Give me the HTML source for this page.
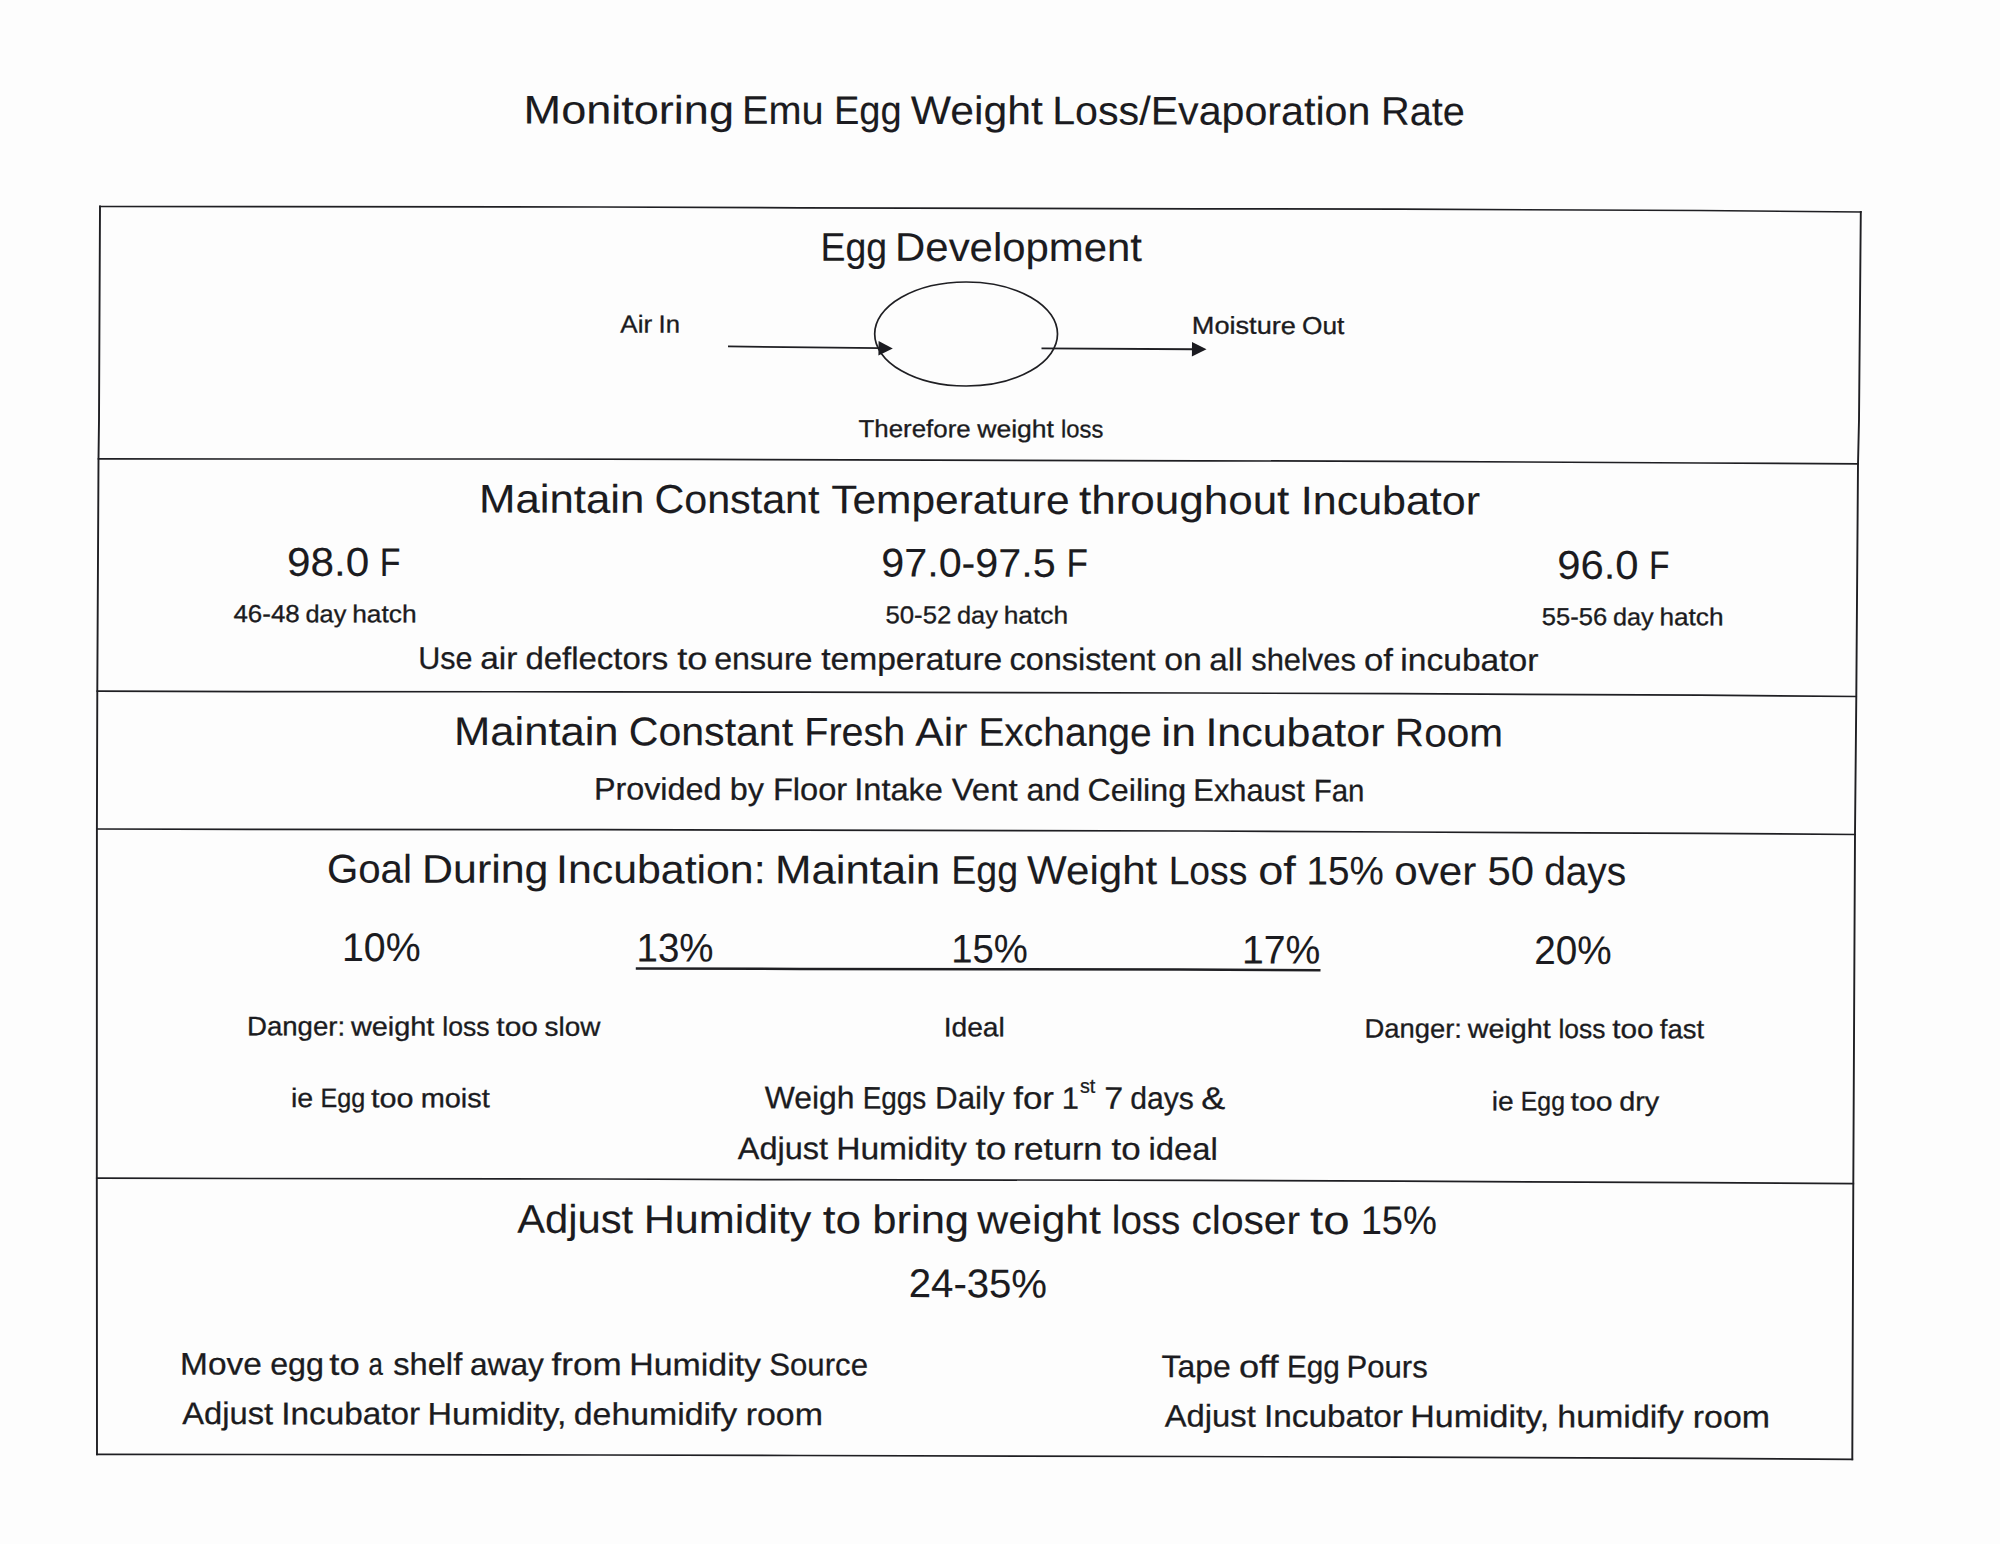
<!DOCTYPE html>
<html lang="en">
<head>
<meta charset="utf-8">
<title>Monitoring Emu Egg Weight Loss/Evaporation Rate</title>
<style>
*{margin:0;padding:0;box-sizing:border-box}
html,body{width:2000px;height:1544px;overflow:hidden;background:#fdfdfd}
body{position:relative;font-family:"Liberation Sans",sans-serif;color:#1b1b20}
.t{position:absolute;white-space:nowrap;line-height:1em;height:1em;font-weight:400}
.t span{display:inline-block;transform-origin:0 0}
.a{-webkit-text-stroke:.12px currentColor}
.b{-webkit-text-stroke:.28px currentColor}
.c{-webkit-text-stroke:.32px currentColor}
sup{font-size:.64em;line-height:0;vertical-align:baseline;position:relative;top:-.78em;margin-left:.05em}
svg{position:absolute;left:0;top:0}
</style>
</head>
<body>
<svg width="2000" height="1544" viewBox="0 0 2000 1544" fill="none" stroke="#1f1f23" stroke-width="1.7" stroke-linejoin="miter" stroke-linecap="square" aria-hidden="true">
<polyline points="100,206.5 260,206.6 600,207 800,207.8 1200,208.8 1400,209.2 1700,210.5 1860.8,212"/>
<polyline points="98.5,458.8 250,459 500,459 700,459.4 1200,460.8 1400,461.3 1700,463 1858,463.8"/>
<polyline points="97.3,691.2 250,691.6 600,691.8 800,692.2 1200,693 1400,693.7 1700,695.1 1856.2,696.5"/>
<polyline points="97,829 250,829.3 600,829.7 800,830.2 1200,831 1400,832 1700,833.3 1855,834.5"/>
<polyline points="96.8,1178.2 250,1178.5 600,1179 800,1179.7 1200,1180.3 1400,1181.2 1700,1182.7 1853.3,1183.7"/>
<polyline points="97,1454.3 600,1455 800,1455.5 1200,1456.5 1400,1457.2 1700,1458.3 1852.3,1459.4"/>
<polyline stroke-width="1.9" points="100,206.5 99,420 98.5,459 98.3,500 97.3,691 96.9,829 96.8,1178 97,1454.3"/>
<polyline stroke-width="1.9" points="1860.8,212 1859,420 1858,464 1856.3,696 1855,834 1853.3,1183 1852.3,1459.4"/>
<ellipse cx="966.1" cy="334" rx="91.4" ry="52" stroke-width="1.7"/>
<line x1="728" y1="346.4" x2="880" y2="348.2" stroke-width="1.8" stroke-linecap="butt"/>
<polygon points="878.6,341 892.8,348.4 878.4,355.4" fill="#1b1b20" stroke="none"/>
<line x1="1041.5" y1="348.4" x2="1193" y2="349.2" stroke-width="1.9" stroke-linecap="butt"/>
<polygon points="1192,342 1206.5,349.3 1191.9,356.5" fill="#1b1b20" stroke="none"/>
<polyline points="635.8,968.5 800,968.9 1000,969.2 1180,969.6 1320.5,970.2" stroke-width="2.5" stroke-linecap="butt"/>
</svg>
<main>
<header>
<h1 class="t a" style="left:523px;top:89px;width:944px;font-size:40.0px;transform-origin:4px 34px;transform:translateY(0.50px) rotate(0.092deg)"><span style="transform:translateX(0.62px) scaleX(1.1262)">Monitoring</span> <span style="transform:translateX(21.04px) scaleX(0.9910)">Emu</span> <span style="transform:translateX(19.98px) scaleX(0.9504)">Egg</span> <span style="transform:translateX(13.77px) scaleX(1.0665)">Weight</span> <span style="transform:translateX(21.23px) scaleX(1.0292)">Loss/Evaporation</span> <span style="transform:translateX(29.03px) scaleX(0.9910)">Rate</span></h1>
</header>
<section>
<h2 class="t a" style="left:819px;top:226px;width:327px;font-size:40.0px;transform-origin:4px 34px;transform:translateY(0.75px) rotate(0.063deg)"><span style="transform:translateX(1.49px) scaleX(0.9352)">Egg</span> <span style="transform:translateX(-5.90px) scaleX(1.0471)">Development</span></h2>
<p class="t c" style="left:616px;top:312px;width:65px;font-size:24.4px;transform-origin:4px 20px;transform:translateY(0.50px) rotate(0.103deg)"><span style="transform:translateX(4.30px) scaleX(1.0678)">Air</span> <span style="transform:translateX(5.52px) scaleX(1.0507)">In</span></p>
<p class="t c" style="left:1190px;top:313px;width:158px;font-size:24.4px;transform-origin:4px 20px;transform:translateY(0.75px) rotate(0.103deg)"><span style="transform:translateX(1.82px) scaleX(1.1125)">Moisture</span> <span style="transform:translateX(11.98px) scaleX(1.0759)">Out</span></p>
<p class="t c" style="left:855px;top:417px;width:251px;font-size:24.4px;transform-origin:4px 20px;transform:translateY(0.00px) rotate(0.103deg)"><span style="transform:translateX(3.46px) scaleX(1.0609)">Therefore</span> <span style="transform:translateX(9.28px) scaleX(1.0877)">weight</span> <span style="transform:translateX(16.07px) scaleX(0.9739)">loss</span></p>
</section>
<section>
<h2 class="t a" style="left:478px;top:478px;width:1005px;font-size:40.0px;transform-origin:4px 34px;transform:translateY(0.50px) rotate(0.115deg)"><span style="transform:translateX(1.02px) scaleX(1.0926)">Maintain</span> <span style="transform:translateX(14.50px) scaleX(1.0306)">Constant</span> <span style="transform:translateX(19.27px) scaleX(1.0609)">Temperature</span> <span style="transform:translateX(31.96px) scaleX(1.0999)">throughout</span> <span style="transform:translateX(50.87px) scaleX(1.0741)">Incubator</span></h2>
<p class="t a" style="left:285px;top:541px;width:118px;font-size:40.0px;transform-origin:4px 34px;transform:translateY(0.75px) rotate(0.103deg)"><span style="transform:translateX(2.00px) scaleX(1.0560)">98.0</span> <span style="transform:translateX(5.74px) scaleX(0.8464)">F</span></p>
<p class="t c" style="left:230px;top:602px;width:189px;font-size:24.4px;transform-origin:4px 20px;transform:translateY(0.00px) rotate(0.103deg)"><span style="transform:translateX(3.45px) scaleX(1.0625)">46-48</span> <span style="transform:translateX(6.55px) scaleX(1.0364)">day</span> <span style="transform:translateX(7.23px) scaleX(1.0773)">hatch</span></p>
<p class="t a" style="left:879px;top:542px;width:211px;font-size:40.0px;transform-origin:4px 34px;transform:translateY(0.50px) rotate(0.103deg)"><span style="transform:translateX(2.29px) scaleX(1.0314)">97.0-97.5</span> <span style="transform:translateX(7.47px) scaleX(0.8758)">F</span></p>
<p class="t c" style="left:882px;top:603px;width:188px;font-size:24.4px;transform-origin:4px 20px;transform:translateY(0.25px) rotate(0.103deg)"><span style="transform:translateX(3.50px) scaleX(1.0543)">50-52</span> <span style="transform:translateX(6.00px) scaleX(1.0369)">day</span> <span style="transform:translateX(6.70px) scaleX(1.0778)">hatch</span></p>
<p class="t a" style="left:1555px;top:544px;width:117px;font-size:40.0px;transform-origin:4px 34px;transform:translateY(0.75px) rotate(0.103deg)"><span style="transform:translateX(2.27px) scaleX(1.0440)">96.0</span> <span style="transform:translateX(4.96px) scaleX(0.8368)">F</span></p>
<p class="t c" style="left:1538px;top:605px;width:187px;font-size:24.4px;transform-origin:4px 20px;transform:translateY(0.00px) rotate(0.103deg)"><span style="transform:translateX(3.75px) scaleX(1.0482)">55-56</span> <span style="transform:translateX(5.95px) scaleX(1.0326)">day</span> <span style="transform:translateX(6.46px) scaleX(1.0733)">hatch</span></p>
<p class="t b" style="left:416px;top:642px;width:1126px;font-size:31.1px;transform-origin:4px 26px;transform:translateY(0.75px) rotate(0.102deg)"><span style="transform:translateX(2.34px) scaleX(0.9809)">Use</span> <span style="transform:translateX(0.23px) scaleX(1.0727)">air</span> <span style="transform:translateX(2.43px) scaleX(1.0590)">deflectors</span> <span style="transform:translateX(10.18px) scaleX(1.1610)">to</span> <span style="transform:translateX(13.26px) scaleX(1.0330)">ensure</span> <span style="transform:translateX(16.22px) scaleX(1.0799)">temperature</span> <span style="transform:translateX(28.41px) scaleX(1.0432)">consistent</span> <span style="transform:translateX(34.30px) scaleX(1.0872)">on</span> <span style="transform:translateX(36.34px) scaleX(1.0687)">all</span> <span style="transform:translateX(38.26px) scaleX(0.9918)">shelves</span> <span style="transform:translateX(36.88px) scaleX(1.1150)">of</span> <span style="transform:translateX(39.36px) scaleX(1.0791)">incubator</span></p>
</section>
<section>
<h2 class="t a" style="left:453px;top:711px;width:1051px;font-size:40.0px;transform-origin:4px 34px;transform:translateY(0.00px) rotate(0.082deg)"><span style="transform:translateX(1.04px) scaleX(1.0881)">Maintain</span> <span style="transform:translateX(13.79px) scaleX(1.0264)">Constant</span> <span style="transform:translateX(17.35px) scaleX(0.9871)">Fresh</span> <span style="transform:translateX(15.24px) scaleX(1.0673)">Air</span> <span style="transform:translateX(18.38px) scaleX(0.9738)">Exchange</span> <span style="transform:translateX(12.34px) scaleX(1.1134)">in</span> <span style="transform:translateX(14.44px) scaleX(1.0733)">Incubator</span> <span style="transform:translateX(25.86px) scaleX(1.0134)">Room</span></h2>
<p class="t b" style="left:592px;top:773px;width:774px;font-size:31.1px;transform-origin:4px 26px;transform:translateY(0.50px) rotate(0.131deg)"><span style="transform:translateX(1.90px) scaleX(1.0396)">Provided</span> <span style="transform:translateX(6.86px) scaleX(1.0397)">by</span> <span style="transform:translateX(7.88px) scaleX(1.0484)">Floor</span> <span style="transform:translateX(10.32px) scaleX(1.0458)">Intake</span> <span style="transform:translateX(13.74px) scaleX(1.0573)">Vent</span> <span style="transform:translateX(17.42px) scaleX(1.0366)">and</span> <span style="transform:translateX(18.48px) scaleX(1.0376)">Ceiling</span> <span style="transform:translateX(20.31px) scaleX(0.9917)">Exhaust</span> <span style="transform:translateX(19.69px) scaleX(0.9462)">Fan</span></p>
</section>
<section>
<h2 class="t a" style="left:325px;top:848px;width:1304px;font-size:40.0px;transform-origin:4px 34px;transform:translateY(0.50px) rotate(0.111deg)"><span style="transform:translateX(2.04px) scaleX(1.0036)">Goal</span> <span style="transform:translateX(1.10px) scaleX(1.0716)">During</span> <span style="transform:translateX(6.12px) scaleX(1.0702)">Incubation:</span> <span style="transform:translateX(19.00px) scaleX(1.0925)">Maintain</span> <span style="transform:translateX(32.33px) scaleX(0.9385)">Egg</span> <span style="transform:translateX(26.10px) scaleX(1.0512)">Weight</span> <span style="transform:translateX(32.65px) scaleX(0.9304)">Loss</span> <span style="transform:translateX(26.18px) scaleX(1.1277)">of</span> <span style="transform:translateX(30.56px) scaleX(0.9637)">15%</span> <span style="transform:translateX(27.31px) scaleX(1.0531)">over</span> <span style="transform:translateX(31.39px) scaleX(1.0449)">50</span> <span style="transform:translateX(32.20px) scaleX(0.9700)">days</span></h2>
<p class="t a" style="left:341px;top:927px;width:82px;font-size:40.0px;transform-origin:4px 34px;transform:translateY(0.00px) rotate(0.103deg)"><span style="transform:translateX(1.06px) scaleX(0.9803)">10%</span></p>
<p class="t a" style="left:635px;top:927px;width:81px;font-size:40.0px;transform-origin:4px 34px;transform:translateY(0.50px) rotate(0.103deg)"><span style="transform:translateX(1.62px) scaleX(0.9605)">13%</span></p>
<p class="t a" style="left:950px;top:928px;width:81px;font-size:40.0px;transform-origin:4px 34px;transform:translateY(0.50px) rotate(0.103deg)"><span style="transform:translateX(1.18px) scaleX(0.9559)">15%</span></p>
<p class="t a" style="left:1241px;top:929px;width:82px;font-size:40.0px;transform-origin:4px 34px;transform:translateY(0.50px) rotate(0.103deg)"><span style="transform:translateX(1.07px) scaleX(0.9763)">17%</span></p>
<p class="t a" style="left:1532px;top:930px;width:82px;font-size:40.0px;transform-origin:4px 34px;transform:translateY(0.00px) rotate(0.103deg)"><span style="transform:translateX(2.17px) scaleX(0.9662)">20%</span></p>
<p class="t c" style="left:245px;top:1013px;width:360px;font-size:26.7px;transform-origin:4px 22px;transform:translateY(0.25px) rotate(0.103deg)"><span style="transform:translateX(1.98px) scaleX(1.0335)">Danger:</span> <span style="transform:translateX(3.98px) scaleX(1.0811)">weight</span> <span style="transform:translateX(10.31px) scaleX(0.9948)">loss</span> <span style="transform:translateX(9.36px) scaleX(1.1200)">too</span> <span style="transform:translateX(13.55px) scaleX(1.0447)">slow</span></p>
<p class="t c" style="left:941px;top:1014px;width:65px;font-size:26.7px;transform-origin:4px 22px;transform:translateY(0.25px) rotate(0.103deg)"><span style="transform:translateX(2.69px) scaleX(1.0557)">Ideal</span></p>
<p class="t c" style="left:1362px;top:1015px;width:346px;font-size:26.7px;transform-origin:4px 22px;transform:translateY(0.50px) rotate(0.127deg)"><span style="transform:translateX(2.50px) scaleX(1.0264)">Danger:</span> <span style="transform:translateX(3.78px) scaleX(1.0738)">weight</span> <span style="transform:translateX(9.49px) scaleX(0.9880)">loss</span> <span style="transform:translateX(8.17px) scaleX(1.1123)">too</span> <span style="transform:translateX(11.85px) scaleX(1.0266)">fast</span></p>
<p class="t c" style="left:288px;top:1085px;width:204px;font-size:26.7px;transform-origin:4px 22px;transform:translateY(0.00px) rotate(0.103deg)"><span style="transform:translateX(2.90px) scaleX(1.0697)">ie</span> <span style="transform:translateX(4.50px) scaleX(0.9412)">Egg</span> <span style="transform:translateX(-0.04px) scaleX(1.1466)">too</span> <span style="transform:translateX(4.68px) scaleX(1.0835)">moist</span></p>
<p class="t b" style="left:760px;top:1082px;width:468px;font-size:31.1px;transform-origin:4px 26px;transform:translateY(0.25px) rotate(0.093deg)"><span style="transform:translateX(4.80px) scaleX(1.0246)">Weigh</span> <span style="transform:translateX(6.78px) scaleX(0.8962)">Eggs</span> <span style="transform:translateX(-0.93px) scaleX(1.0059)">Daily</span> <span style="transform:translateX(-0.77px) scaleX(1.1213)">for</span> <span style="transform:translateX(3.82px) scaleX(0.9926)">1<sup>st</sup></span> <span style="transform:translateX(3.29px) scaleX(1.0945)">7</span> <span style="transform:translateX(3.18px) scaleX(0.9690)">days</span> <span style="transform:translateX(0.29px) scaleX(1.1569)">&amp;</span></p>
<p class="t c" style="left:1489px;top:1088px;width:174px;font-size:26.7px;transform-origin:4px 22px;transform:translateY(0.25px) rotate(0.103deg)"><span style="transform:translateX(2.67px) scaleX(1.0544)">ie</span> <span style="transform:translateX(3.85px) scaleX(0.9278)">Egg</span> <span style="transform:translateX(-1.41px) scaleX(1.1302)">too</span> <span style="transform:translateX(2.29px) scaleX(1.0780)">dry</span></p>
<p class="t b" style="left:733px;top:1133px;width:485px;font-size:31.1px;transform-origin:4px 26px;transform:translateY(0.00px) rotate(0.084deg)"><span style="transform:translateX(4.80px) scaleX(1.0444)">Adjust</span> <span style="transform:translateX(8.16px) scaleX(1.0798)">Humidity</span> <span style="transform:translateX(17.40px) scaleX(1.1919)">to</span> <span style="transform:translateX(21.07px) scaleX(1.0984)">return</span> <span style="transform:translateX(29.59px) scaleX(1.1216)">to</span> <span style="transform:translateX(31.55px) scaleX(1.0523)">ideal</span></p>
</section>
<section>
<h2 class="t a" style="left:513px;top:1198px;width:927px;font-size:40.0px;transform-origin:4px 34px;transform:translateY(0.75px) rotate(0.084deg)"><span style="transform:translateX(4.30px) scaleX(1.0426)">Adjust</span> <span style="transform:translateX(8.69px) scaleX(1.0780)">Humidity</span> <span style="transform:translateX(20.74px) scaleX(1.1493)">to</span> <span style="transform:translateX(25.20px) scaleX(1.0895)">bring</span> <span style="transform:translateX(30.31px) scaleX(1.0689)">weight</span> <span style="transform:translateX(38.83px) scaleX(0.9629)">loss</span> <span style="transform:translateX(35.53px) scaleX(1.0168)">closer</span> <span style="transform:translateX(37.02px) scaleX(1.1861)">to</span> <span style="transform:translateX(42.67px) scaleX(0.9529)">15%</span></h2>
<p class="t a" style="left:906px;top:1263px;width:143px;font-size:40.0px;transform-origin:4px 34px;transform:translateY(0.00px) rotate(0.213deg)"><span style="transform:translateX(2.80px) scaleX(1.0024)">24-35%</span></p>
<p class="t b" style="left:178px;top:1348px;width:692px;font-size:31.1px;transform-origin:4px 26px;transform:translateY(0.50px) rotate(0.075deg)"><span style="transform:translateX(2.06px) scaleX(1.0752)">Move</span> <span style="transform:translateX(7.20px) scaleX(1.0350)">egg</span> <span style="transform:translateX(6.29px) scaleX(1.1729)">to</span> <span style="transform:translateX(10.55px) scaleX(0.8298)">a</span> <span style="transform:translateX(9.24px) scaleX(1.0499)">shelf</span> <span style="transform:translateX(11.97px) scaleX(1.0177)">away</span> <span style="transform:translateX(12.54px) scaleX(1.1270)">from</span> <span style="transform:translateX(19.21px) scaleX(1.0902)">Humidity</span> <span style="transform:translateX(29.26px) scaleX(1.0020)">Source</span></p>
<p class="t b" style="left:178px;top:1398px;width:647px;font-size:31.1px;transform-origin:4px 26px;transform:translateY(0.00px) rotate(0.090deg)"><span style="transform:translateX(4.30px) scaleX(1.0513)">Adjust</span> <span style="transform:translateX(8.32px) scaleX(1.0712)">Incubator</span> <span style="transform:translateX(16.53px) scaleX(1.0912)">Humidity,</span> <span style="transform:translateX(26.79px) scaleX(1.0871)">dehumidify</span> <span style="transform:translateX(39.72px) scaleX(1.0889)">room</span></p>
<p class="t b" style="left:1158px;top:1351px;width:272px;font-size:31.1px;transform-origin:4px 26px;transform:translateY(0.00px) rotate(0.103deg)"><span style="transform:translateX(3.58px) scaleX(1.0249)">Tape</span> <span style="transform:translateX(4.90px) scaleX(1.1643)">off</span> <span style="transform:translateX(9.92px) scaleX(0.9528)">Egg</span> <span style="transform:translateX(5.52px) scaleX(0.9991)">Pours</span></p>
<p class="t b" style="left:1160px;top:1400px;width:611px;font-size:31.1px;transform-origin:4px 26px;transform:translateY(0.50px) rotate(0.095deg)"><span style="transform:translateX(4.80px) scaleX(1.0523)">Adjust</span> <span style="transform:translateX(8.91px) scaleX(1.0722)">Incubator</span> <span style="transform:translateX(17.25px) scaleX(1.0922)">Humidity,</span> <span style="transform:translateX(28.37px) scaleX(1.0907)">humidify</span> <span style="transform:translateX(38.79px) scaleX(1.0889)">room</span></p>
</section>
</main>
</body>
</html>
